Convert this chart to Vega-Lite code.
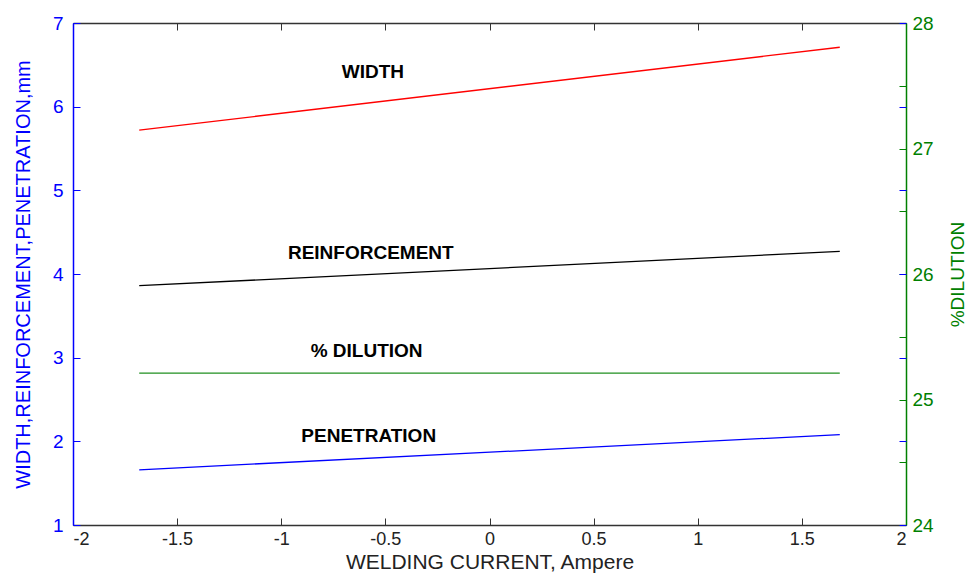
{
  "$schema": "https://vega.github.io/schema/vega-lite/v6.json",
  "width": 833,
  "height": 502,
  "autosize": "none",
  "padding": {"left": 73, "top": 23, "right": 61, "bottom": 49},
  "background": "white",
  "config": {
    "view": {"stroke": null},
    "font": "Liberation Sans",
    "axis": {"labelFont": "Liberation Sans", "titleFont": "Liberation Sans", "grid": false, "titleFontWeight": "normal"}
  },
  "datasets": {
    "lines": [
      {"series": "WIDTH", "current": -1.682, "value": 5.72},
      {"series": "WIDTH", "current": 1.682, "value": 6.71},
      {"series": "REINFORCEMENT", "current": -1.682, "value": 3.86},
      {"series": "REINFORCEMENT", "current": 1.682, "value": 4.27},
      {"series": "PENETRATION", "current": -1.682, "value": 1.66},
      {"series": "PENETRATION", "current": 1.682, "value": 2.08}
    ],
    "dil": [
      {"series": "% DILUTION", "current": -1.682, "value": 25.21},
      {"series": "% DILUTION", "current": 1.682, "value": 25.21}
    ],
    "labels": [
      {"label": "WIDTH", "current": -0.56, "value": 6.41},
      {"label": "REINFORCEMENT", "current": -0.57, "value": 4.25},
      {"label": "% DILUTION", "current": -0.59, "value": 3.08},
      {"label": "PENETRATION", "current": -0.58, "value": 2.06}
    ]
  },
  "layer": [
    {
      "layer": [
        {
          "data": {"name": "lines"},
          "mark": {"type": "line", "strokeWidth": 1.3},
          "encoding": {
            "x": {
              "field": "current", "type": "quantitative",
              "scale": {"domain": [-2, 2], "nice": false, "zero": false},
              "axis": {
                "orient": "bottom",
                "values": [-2, -1.5, -1, -0.5, 0, 0.5, 1, 1.5, 2],
                "labelExpr": "'' + datum.value",
                "tickSize": -7, "tickColor": "#333333", "domainColor": "#333333", "domainWidth": 1.5,
                "labelColor": "#222222", "labelFontSize": 18, "labelPadding": 12,
                "title": "WELDING CURRENT, Ampere", "titleFontSize": 21, "titleColor": "#222222", "titlePadding": 3
              }
            },
            "y": {
              "field": "value", "type": "quantitative",
              "scale": {"domain": [1, 7], "nice": false, "zero": false},
              "axis": {
                "orient": "left",
                "values": [1, 2, 3, 4, 5, 6, 7],
                "labelExpr": "'' + datum.value",
                "tickSize": -7, "tickColor": "#0000ff", "domainColor": "#0000ff", "domainWidth": 1.5,
                "labelColor": "#0000ff", "labelFontSize": 19, "labelPadding": 17,
                "title": "WIDTH,REINFORCEMENT,PENETRATION,mm", "titleFontSize": 20, "titleColor": "#0000ff", "titlePadding": 19
              }
            },
            "color": {
              "field": "series", "type": "nominal",
              "scale": {"domain": ["WIDTH", "REINFORCEMENT", "PENETRATION"], "range": ["#ff0000", "#000000", "#0000ff"]},
              "legend": null
            }
          }
        },
        {
          "data": {"name": "labels"},
          "mark": {"type": "text", "font": "Liberation Sans", "fontWeight": "bold", "fontSize": 19, "align": "center", "baseline": "middle", "color": "#000000"},
          "encoding": {
            "x": {"field": "current", "type": "quantitative"},
            "y": {"field": "value", "type": "quantitative"},
            "text": {"field": "label"}
          }
        }
      ]
    },
    {
      "data": {"name": "dil"},
      "mark": {"type": "line", "strokeWidth": 1.3, "color": "#1f8f1f"},
      "encoding": {
        "x": {
          "field": "current", "type": "quantitative",
          "axis": {"orient": "top", "values": [-2, -1.5, -1, -0.5, 0, 0.5, 1, 1.5, 2], "labels": false, "title": null, "tickSize": -7, "tickColor": "#333333", "domainColor": "#333333", "domainWidth": 1.5}
        },
        "y": {
          "field": "value", "type": "quantitative",
          "scale": {"domain": [24, 28], "nice": false, "zero": false},
          "axis": {
            "orient": "right",
            "values": [24, 24.5, 25, 25.5, 26, 26.5, 27, 27.5, 28],
            "labelExpr": "datum.value % 1 == 0 ? '' + datum.value : ''",
            "tickSize": -7, "tickColor": "#008000", "domainColor": "#008000", "domainWidth": 1.5,
            "labelColor": "#008000", "labelFontSize": 19, "labelPadding": 13,
            "title": "%DILUTION", "titleAngle": 270, "titleFontSize": 19, "titleColor": "#008000", "titlePadding": 34
          }
        }
      }
    },
    {
      "data": {"name": "lines"},
      "mark": {"type": "point", "opacity": 0},
      "encoding": {
        "x": {"field": "current", "type": "quantitative", "axis": null},
        "y": {
          "field": "value", "type": "quantitative",
          "scale": {"domain": [1, 7], "nice": false, "zero": false},
          "axis": {"orient": "right", "values": [1, 2, 3, 4, 5, 6, 7], "labels": false, "domain": false, "title": null, "tickSize": -7, "tickColor": "#0000ff"}
        }
      }
    }
  ],
  "resolve": {"scale": {"y": "independent"}, "axis": {"x": "independent", "y": "independent"}}
}
